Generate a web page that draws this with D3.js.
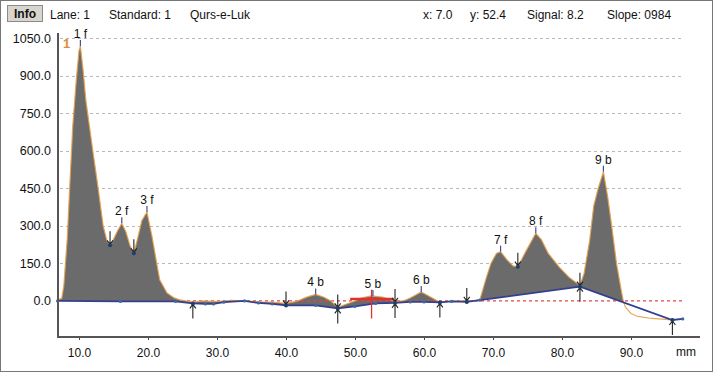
<!DOCTYPE html>
<html><head><meta charset="utf-8">
<script src="https://cdn.jsdelivr.net/npm/d3@7/dist/d3.min.js"></script>
<style>
body{margin:0;background:#fff;}
svg text{font-family:"Liberation Sans",Arial,sans-serif;}
</style></head>
<body><svg id="c" width="713" height="372"></svg>
<script>
// Densitometric signal (mm, signal)
const signalX = [6.9,7.5,7.8,8.3,8.7,9.1,9.6,10.0,10.2,10.6,11.0,11.6,12.0,12.75,13.5,14.05,14.5,14.9,15.5,16.2,16.8,17.4,17.95,18.5,19.1,19.85,20.6,21.2,21.7,22.75,23.8,24.6,26.5,28,30,32,34,36,38,40,41.5,43,44.3,45.5,46.5,47.5,48.5,50,51,52.4,54,55.8,57,58,59.6,61,62.3,63.5,65,66.2,67.5,68.1,69.0,69.7,70.5,71.1,72.0,72.9,73.6,74.8,76.2,77.0,78.0,79.6,81.0,82.6,83.2,84.0,84.6,85.2,86.0,86.6,87.2,87.9,88.6,88.9,89.2,90.0,91.0,93.0,95.0,96.0,97.5];
const signalY = [5,10,60,250,480,700,880,1000,1018,920,800,680,600,455,300,240,222,240,275,310,275,220,190,250,320,355,255,160,84,32,12,4,-5,0,-3,2,0,-4,-5,-10,-2,15,26,15,0,-25,-15,0,12,20,15,-2,0,12,36,15,-5,-2,0,0,2,5,90,150,190,197,165,140,137,200,270,245,190,135,95,62,110,240,380,445,516,420,300,150,40,-3,-25,-50,-62,-70,-74,-76,-70];
// Baseline (mm, value)
const baseX = [6.9,16,24,26.5,28.3,29.5,31,34,36,38,40,44.3,47.5,50,53,55.8,58,60,62.3,64,66.2,68.1,82.6,96.0,97.5];
const baseY = [0,-2,-2,-10,-12,-12,-5,0,-8,-12,-18,-18,-30,-22,-10,-8,-4,-4,-6,-2,-4,3,57,-76,-72];
// Y-axis ticks, X-axis ticks
const yTicks = [0,150,300,450,600,750,900,1050];
const xTicks = [10,20,30,40,50,60,70,80,90];
// Peaks
const peakNames = ["1 f","2 f","3 f","4 b","5 b","6 b","7 f","8 f","9 b"];
const peakX = [10.2,16.2,19.85,44.3,52.6,59.6,71.1,76.2,86.0];
const peakY = [1018,310,355,26,20,36,197,270,516];
// Boundary markers: mm, value, type (d=down arrow above, u=up arrow below, b=both)
const markX = [14.5,17.95,26.5,40,47.5,55.8,62.3,66.2,73.6,82.6,96.0];
const markY = [222,190,-10,-18,-30,-8,-6,-4,137,57,-76];
const markT = ["d","d","u","d","b","b","u","d","d","b","u"];
// header
const headerItems = [["Lane: 1",50],["Standard: 1",109],["Qurs-e-Luk",190],["x: 7.0",423],["y: 52.4",470],["Signal: 8.2",527],["Slope: 0984",607]];

const svg = d3.select("#c");
const x = d3.scaleLinear().domain([7,100]).range([58.3,700]);
const y = d3.scaleLinear().domain([-144,1070]).range([337,33]);

svg.append("rect").attr("x",0.5).attr("y",0.5).attr("width",712).attr("height",371).attr("fill","#fff").attr("stroke","#777");

// header
svg.append("rect").attr("x",7.5).attr("y",5.5).attr("width",35).attr("height",16).attr("fill","#d8d5cc").attr("stroke","#8a8a8a");
svg.append("text").attr("x",25).attr("y",18).attr("text-anchor","middle").attr("font-size",12).attr("font-weight","bold").attr("fill","#111").text("Info");
headerItems.forEach(h=>svg.append("text").attr("x",h[1]).attr("y",18.5).attr("font-size",12).attr("fill","#111").text(h[0]));

// grid
const g = svg.append("g");
yTicks.filter(d=>d>0).forEach(t=>{
  g.append("line").attr("x1",60).attr("x2",683).attr("y1",Math.round(y(t))+0.5).attr("y2",Math.round(y(t))+0.5)
   .attr("stroke","#b8b8b8").attr("stroke-dasharray","3,3");
});

// interpolated baseline for fill
const baseInterp = v => {
  for (let i=0;i<baseX.length-1;i++){
    if (v>=baseX[i] && v<=baseX[i+1]) {const t=(v-baseX[i])/(baseX[i+1]-baseX[i]); return baseY[i]+t*(baseY[i+1]-baseY[i]);}
  }
  return v<baseX[0]?baseY[0]:baseY[baseY.length-1];
};
const sig = signalX.map((d,i)=>({x:d,y:signalY[i],b:baseInterp(d)}));
const area = d3.area().x(d=>x(d.x)).y0(d=>y(d.b)).y1(d=>y(Math.max(d.y,d.b)));
g.append("path").datum(sig).attr("d",area).attr("fill","#6b6b6b");

// zero red dashed
g.append("line").attr("x1",163).attr("x2",683).attr("y1",y(0)).attr("y2",y(0)).attr("stroke","#e04848").attr("stroke-width",1.3).attr("stroke-dasharray","3,3");

// signal outline
g.append("path").datum(sig).attr("d",d3.line().x(d=>x(d.x)).y(d=>y(d.y)))
 .attr("fill","none").attr("stroke","#e6a04a").attr("stroke-width",1.2).attr("opacity",0.9);

// baseline
const base = baseX.map((d,i)=>({x:d,y:baseY[i]}));
g.append("path").datum(base).attr("d",d3.line().x(d=>x(d.x)).y(d=>y(d.y)))
 .attr("fill","none").attr("stroke","#34408f").attr("stroke-width",1.8);

// baseline small nodes
base.forEach(d=>g.append("circle").attr("cx",x(d.x)).attr("cy",y(d.y)).attr("r",1.6).attr("fill","#3a6aa8"));

// red cursor
g.append("line").attr("x1",x(49.3)).attr("x2",x(55.6)).attr("y1",y(8)).attr("y2",y(8)).attr("stroke","#e03030").attr("stroke-width",2.5);
g.append("line").attr("x1",x(52.4)).attr("x2",x(52.4)).attr("y1",y(45)).attr("y2",y(-70)).attr("stroke","#e03030").attr("stroke-width",1.3);

// peak ticks and labels
peakX.forEach((px,i)=>{
  g.append("line").attr("x1",x(px)).attr("x2",x(px)).attr("y1",y(peakY[i])).attr("y2",y(peakY[i])-6).attr("stroke","#4a4a9a").attr("stroke-width",1.2);
  g.append("text").attr("x",x(px)).attr("y",y(peakY[i])-8).attr("text-anchor","middle").attr("font-size",12).attr("fill","#111").text(peakNames[i]);
});

// markers
markX.forEach((mx,i)=>{
  const cx=x(mx), cy=y(markY[i]), t=markT[i];
  if (t==="d"||t==="b"){
    g.append("path").attr("d",`M${cx},${cy-14}V${cy-1}M${cx-3},${cy-5}L${cx},${cy-1}L${cx+3},${cy-5}`).attr("stroke","#222").attr("fill","none").attr("stroke-width",1.1);
  }
  if (t==="u"||t==="b"){
    g.append("path").attr("d",`M${cx},${cy+15}V${cy+1}M${cx-3},${cy+5}L${cx},${cy+1}L${cx+3},${cy+5}`).attr("stroke","#222").attr("fill","none").attr("stroke-width",1.1);
  }
  g.append("circle").attr("cx",cx).attr("cy",cy).attr("r",2).attr("fill","#1d3f6e");
});

// orange lane label
svg.append("text").attr("x",63).attr("y",48).attr("font-size",13).attr("font-weight","bold").attr("fill","#e08a3c").text("1");

// axes
const yAxis = d3.axisLeft(y).tickValues(yTicks).tickFormat(d3.format(".1f")).tickSize(0).tickPadding(7);
const ya = svg.append("g").attr("transform","translate(58,0)").call(yAxis);
ya.select(".domain").remove();
ya.selectAll("text").attr("font-size",12.5).attr("fill","#111").style("font-family","Liberation Sans, Arial, sans-serif");
svg.append("line").attr("x1",58).attr("x2",58).attr("y1",33).attr("y2",338).attr("stroke","#555").attr("stroke-width",2);

const xAxis = d3.axisBottom(x).tickValues(xTicks).tickFormat(d3.format(".1f")).tickSize(3).tickPadding(8);
const xa = svg.append("g").attr("transform","translate(0,337)").call(xAxis);
xa.select(".domain").remove();
xa.selectAll("line").attr("stroke","#444");
xa.selectAll("text").attr("font-size",12).attr("fill","#111").style("font-family","Liberation Sans, Arial, sans-serif");
svg.append("line").attr("x1",57).attr("x2",700).attr("y1",337).attr("y2",337).attr("stroke","#555").attr("stroke-width",2);
svg.append("text").attr("x",676).attr("y",356).attr("font-size",12).attr("fill","#111").text("mm");
</script></body></html>
